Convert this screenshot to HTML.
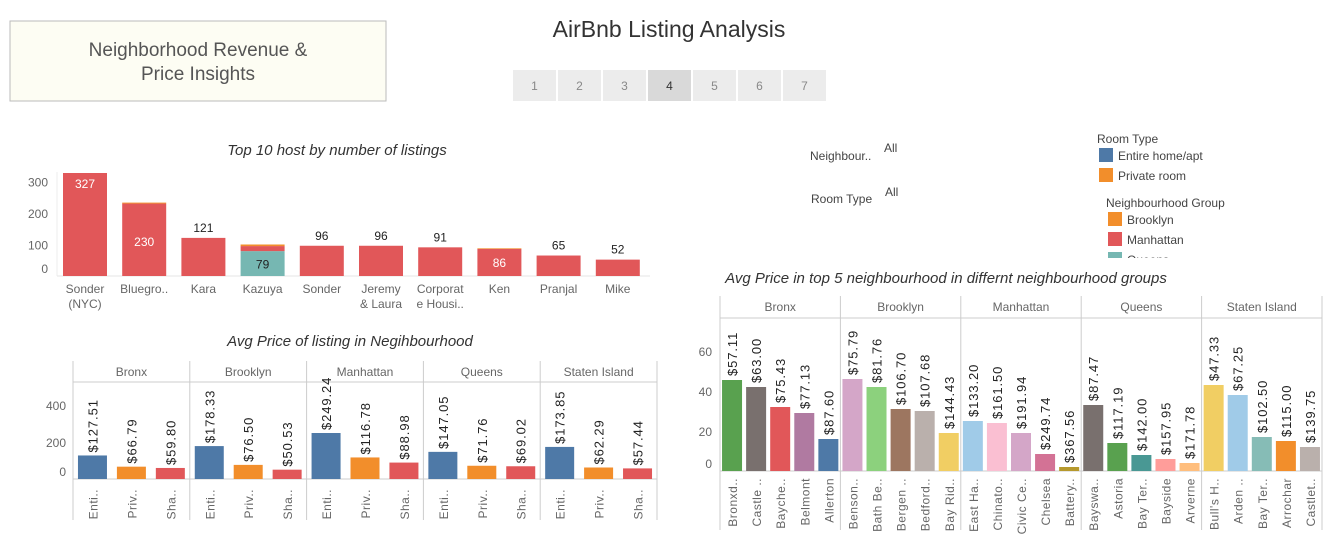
<!DOCTYPE html>
<html><head><meta charset="utf-8"><style>
body{margin:0;background:#fff;width:1338px;height:536px;overflow:hidden;font-family:"Liberation Sans",sans-serif;}
svg text{font-family:"Liberation Sans",sans-serif;}
.rl{letter-spacing:0.9px;}
.xl{letter-spacing:0.5px;}
</style></head><body>
<svg id="s" width="1338" height="536" xmlns="http://www.w3.org/2000/svg">
<rect x="10" y="21" width="376" height="80" fill="#fdfdf3" stroke="#bbb"/>
<text x="198" y="56" font-size="19" fill="#555" text-anchor="middle">Neighborhood Revenue &amp;</text>
<text x="198" y="80" font-size="19" fill="#555" text-anchor="middle">Price Insights</text>
<text x="669" y="37" font-size="23" fill="#333" text-anchor="middle">AirBnb Listing Analysis</text>
<g id="tabs"></g>
<text x="810" y="160" font-size="12" fill="#444">Neighbour..</text>
<text x="884" y="152" font-size="12" fill="#444">All</text>
<text x="811" y="203" font-size="12" fill="#444">Room Type</text>
<text x="885" y="196" font-size="12" fill="#444">All</text>
<g>
<text x="1097" y="143" font-size="12" fill="#444">Room Type</text>
<rect x="1099" y="148" width="14" height="14" fill="#4e79a7"/>
<text x="1118" y="160" font-size="12" fill="#444">Entire home/apt</text>
<rect x="1099" y="168" width="14" height="14" fill="#f28e2b"/>
<text x="1118" y="180" font-size="12" fill="#444">Private room</text>
</g>
<g>
<clipPath id="lc"><rect x="1090" y="190" width="200" height="68"/></clipPath>
<g clip-path="url(#lc)">
<text x="1106" y="207" font-size="12" fill="#444">Neighbourhood Group</text>
<rect x="1108" y="212" width="14" height="14" fill="#f28e2b"/>
<text x="1127" y="224" font-size="12" fill="#444">Brooklyn</text>
<rect x="1108" y="232" width="14" height="14" fill="#e15759"/>
<text x="1127" y="244" font-size="12" fill="#444">Manhattan</text>
<rect x="1108" y="252" width="14" height="14" fill="#76b7b2"/>
<text x="1127" y="264" font-size="12" fill="#444">Queens</text>
</g></g>
<text x="337" y="155" font-size="15" font-style="italic" fill="#333" text-anchor="middle">Top 10 host by number of listings</text>
<text x="350" y="346" font-size="15" font-style="italic" fill="#333" text-anchor="middle">Avg Price of listing in Negihbourhood</text>
<text x="946" y="283" font-size="15" font-style="italic" fill="#333" text-anchor="middle">Avg Price in top 5 neighbourhood in differnt neighbourhood groups</text>
<g id="c1"></g>
<g id="c2"></g>
<g id="c3"></g>
</svg>
<script>
// ---- Chart 1 data ----
const hosts = [["Sonder","(NYC)"],["Bluegro..",""],["Kara",""],["Kazuya",""],["Sonder",""],["Jeremy","& Laura"],["Corporat","e Housi.."],["Ken",""],["Pranjal",""],["Mike",""]];
const hostQueens = [0,0,0,79,0,0,0,0,0,0];
const hostManhattan = [327,230,121,16,96,96,91,86,65,52];
const hostBrooklyn = [0,3,0,5,0,0,0,2,0,0];
const hostLabels = ["327","230","121","79","96","96","91","86","65","52"];
const hostTicks = [0,100,200,300];
// ---- Chart 2 data ----
const groups = ["Bronx","Brooklyn","Manhattan","Queens","Staten Island"];
const roomTypes = ["Enti..","Priv..","Sha.."];
const roomPrices = [[127.51,66.79,59.80],[178.33,76.50,50.53],[249.24,116.78,88.98],[147.05,71.76,69.02],[173.85,62.29,57.44]];
const priceTicks = [0,200,400];
// ---- Chart 3 data ----
const hoods = [["Bronxd..","Castle ..","Bayche..","Belmont","Allerton"],["Benson..","Bath Be..","Bergen ..","Bedford..","Bay Rid.."],["East Ha..","Chinato..","Civic Ce..","Chelsea","Battery.."],["Bayswa..","Astoria","Bay Ter..","Bayside","Arverne"],["Bull's H..","Arden ..","Bay Ter..","Arrochar","Castlet.."]];
const hoodCounts = [[45.5,42,32,29,16],[46,42,31,30,19],[25,24,19,8.5,2],[33,14,8,6,4],[43,38,17,15,12]];
const hoodPrices = [["$57.11","$63.00","$75.43","$77.13","$87.60"],["$75.79","$81.76","$106.70","$107.68","$144.43"],["$133.20","$161.50","$191.94","$249.74","$367.56"],["$87.47","$117.19","$142.00","$157.95","$171.78"],["$47.33","$67.25","$102.50","$115.00","$139.75"]];
const countTicks = [0,20,40,60];

const NS="http://www.w3.org/2000/svg";
function mk(parent,tag,attrs,txt){const e=document.createElementNS(NS,tag);for(const k in attrs)e.setAttribute(k,attrs[k]);if(txt!==undefined)e.textContent=txt;parent.appendChild(e);return e;}
const pal={red:"#e15759",orange:"#f28e2b",teal:"#76b7b2",blue:"#4e79a7"};

// tabs
const tabs=document.getElementById('tabs');
for(let i=0;i<7;i++){
  const r=mk(tabs,'rect',{x:513+i*45,y:70,width:43,height:31,fill:i==3?'#d9d9d9':'#ececec'});
  
  
  const t=mk(tabs,'text',{x:534.5+i*45,y:90,'font-size':12,fill:i==3?'#333':'#888','text-anchor':'middle'},String(i+1));
  
  
}

// Chart 1
(function(){
  const g=document.getElementById('c1');
  const base=276, k=103/327;
  const y=v=>base-v*k;
  const x=i=>85+i*59.2;
  mk(g,'line',{x1:57,y1:172,x2:57,y2:base,stroke:'#eee'});
  mk(g,'line',{x1:57,y1:base,x2:650,y2:base,stroke:'#e6e6e6'});
  hostTicks.forEach(t=>{
    const e=mk(g,'text',{x:48,y:Math.min(y(t)+5,base-3),'font-size':12,fill:'#666','text-anchor':'end'},String(t));
    
    
  });
  hosts.forEach((h,i)=>{
    let acc=0;
    [[hostQueens,pal.teal],[hostManhattan,pal.red],[hostBrooklyn,pal.orange]].forEach(([arr,c])=>{
      const v=arr[i]; if(!v)return;
      const r=mk(g,'rect',{x:x(i)-22,y:y(acc+v),width:44,height:v*k,fill:c});
      
      
      acc+=v;
    });
    let ly, col;
    if(i==0){ly=y(acc)+15;col='#fff';}
    else if(i==1){ly=y(acc/2)+5+ (acc*k/2-35);col='#fff';}
    else if(i==3){ly=y(hostQueens[i]/2)+5;col='#222';}
    else if(i==7){ly=y(acc/2)+5;col='#fff';}
    else {ly=y(acc)-6;col='#222';}
    const lt=mk(g,'text',{x:x(i),y:ly,'font-size':12,fill:col,'text-anchor':'middle'},hostLabels[i]);
    
    
    h.forEach((ln,j)=>{ if(!ln)return;
      const xt=mk(g,'text',{x:x(i),y:293+j*15,'font-size':12,fill:'#666','text-anchor':'middle'},ln);
      
      
    });
  });
})();

// Chart 2
(function(){
  const g=document.getElementById('c2');
  const L=73,R=657,top=361,hb=382,base=479,bot=520,pw=(R-L)/5,k=46/249.24;
  const y=v=>base-v*k;
  mk(g,'line',{x1:L,y1:top,x2:L,y2:bot,stroke:'#ccc'});
  mk(g,'line',{x1:L,y1:hb,x2:R,y2:hb,stroke:'#ccc'});
  mk(g,'line',{x1:L,y1:base,x2:R,y2:base,stroke:'#ccc'});
  priceTicks.forEach(t=>{
    const e=mk(g,'text',{x:66,y:Math.min(y(t)+5,base-3),'font-size':12,fill:'#666','text-anchor':'end'},String(t));
    
    
  });
  groups.forEach((gr,p)=>{
    const px=L+p*pw;
    mk(g,'line',{x1:px+pw,y1:top,x2:px+pw,y2:bot,stroke:'#ccc'});
    const h=mk(g,'text',{x:px+pw/2,y:376,'font-size':12,fill:'#666','text-anchor':'middle'},gr);
    
    
    roomTypes.forEach((rt,i)=>{
      const cx=px+pw/6+i*pw/3, v=roomPrices[p][i];
      const r=mk(g,'rect',{x:cx-14.5,y:y(v),width:29,height:v*k,fill:[pal.blue,pal.orange,pal.red][i]});
      
      
      const lt=mk(g,'text',{x:0,y:0,'font-size':13,fill:'#222',class:'rl',transform:`translate(${cx+5},${y(v)-3}) rotate(-90)`},'$'+v.toFixed(2));
      
      
      const xt=mk(g,'text',{x:0,y:0,'font-size':12,fill:'#666',class:'xl','text-anchor':'end',transform:`translate(${cx+5},${489}) rotate(-90)`},rt);
      
      
    });
  });
})();

// Chart 3
(function(){
  const g=document.getElementById('c3');
  const L=720,R=1322,top=296,hb=318,base=471,bot=530,pw=(R-L)/5,k=2;
  const y=v=>base-v*k;
  const cols=[["#59a14f","#79706e","#e15759","#b07aa1","#4e79a7"],["#d4a6c8","#8cd17d","#9d7660","#bab0ac","#f1ce63"],["#a0cbe8","#fabfd2","#d4a6c8","#d37295","#b6992d"],["#79706e","#59a14f","#499894","#ff9d9a","#ffbe7d"],["#f1ce63","#a0cbe8","#86bcb6","#f28e2b","#bab0ac"]];
  mk(g,'line',{x1:L,y1:top,x2:L,y2:bot,stroke:'#ccc'});
  mk(g,'line',{x1:L,y1:hb,x2:R,y2:hb,stroke:'#ccc'});
  mk(g,'line',{x1:L,y1:base,x2:R,y2:base,stroke:'#ccc'});
  countTicks.forEach(t=>{
    const e=mk(g,'text',{x:712,y:Math.min(y(t)+5,base-3),'font-size':12,fill:'#666','text-anchor':'end'},String(t));
    
    
  });
  groups.forEach((gr,p)=>{
    const px=L+p*pw;
    mk(g,'line',{x1:px+pw,y1:top,x2:px+pw,y2:bot,stroke:'#ccc'});
    const h=mk(g,'text',{x:px+pw/2,y:311,'font-size':12,fill:'#666','text-anchor':'middle'},gr);
    
    
    hoods[p].forEach((nm,i)=>{
      const cx=px+pw/10+i*pw/5, v=hoodCounts[p][i];
      const r=mk(g,'rect',{x:cx-10,y:y(v),width:20,height:v*k,fill:cols[p][i]});
      
      
      const lt=mk(g,'text',{x:0,y:0,'font-size':13,fill:'#222',class:'rl',transform:`translate(${cx+5},${y(v)-4}) rotate(-90)`},hoodPrices[p][i]);
      
      
      const xt=mk(g,'text',{x:0,y:0,'font-size':12,fill:'#666',class:'xl','text-anchor':'end',transform:`translate(${cx+5},${478}) rotate(-90)`},nm);
      
      
    });
  });
})();
</script>
</body></html>
